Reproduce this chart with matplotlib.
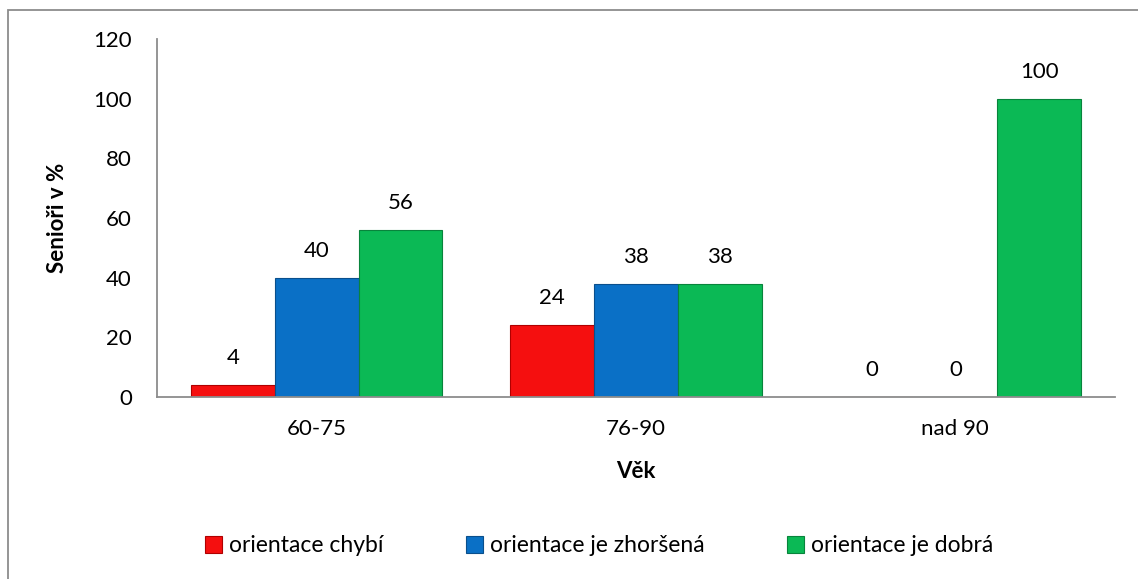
import matplotlib
matplotlib.use("Agg")
import matplotlib.pyplot as plt
import numpy as np
from matplotlib.patches import Rectangle

plt.rcParams['font.family'] = ['Lato', 'DejaVu Sans']

categories = ["60-75", "76-90", "nad 90"]
series_names = ["orientace chybí", "orientace je zhoršená", "orientace je dobrá"]
chybi = [4, 24, 0]
zhorsena = [40, 38, 0]
dobra = [56, 38, 100]
colors = ["#F50F0F", "#0A70C6", "#0BB955"]
edges = ["#B00000", "#0A4F8C", "#08843C"]

W, H = 1138, 579
fig = plt.figure(figsize=(W/100, H/100), dpi=100)
ax = fig.add_axes([157/W, 1-397/H, 958/W, 358/H])

x = np.arange(len(categories))
w = 0.2625
for i, (vals, name, c, e) in enumerate(zip([chybi, zhorsena, dobra], series_names, colors, edges)):
    pos = x + (i - 1) * w
    ax.bar(pos, vals, width=w, color=c, edgecolor=e, linewidth=0.8, label=name)
    for p, v in zip(pos, vals):
        ax.annotate(str(v), (p, v), xytext=(0, 19.5), textcoords="offset points",
                    ha="center", va="center", fontsize=16)

ax.set_xlim(-0.5, 2.5)
ax.set_ylim(0, 120)
ax.set_yticks(range(0, 121, 20))
ax.set_xticks(x)
ax.set_xticklabels(categories, fontsize=16)
ax.tick_params(axis='y', labelsize=16, length=0, pad=18)
ax.tick_params(axis='x', length=0, pad=16)
for s in ["top", "right"]:
    ax.spines[s].set_visible(False)
for s in ["left", "bottom"]:
    ax.spines[s].set_color("#8c8c8c")
    ax.spines[s].set_linewidth(1.3)

ax.set_ylabel("Senioři v %", fontsize=16, fontweight="bold")
ax.yaxis.set_label_coords((68-157)/958, 0.5)
ax.set_xlabel("Věk", fontsize=16, fontweight="bold")
ax.xaxis.set_label_coords(0.5, -(472-397)/358)
ax.xaxis.label.set_va("center")

fig.legend(loc="center", bbox_to_anchor=(599/W, 1-546/H), ncol=3, frameon=False,
           fontsize=16.5, handlelength=0.75, handleheight=0.75, handletextpad=0.3,
           columnspacing=3.6)

fig.patches.append(Rectangle((8/W, -0.05), 1.2, 1.05 - 10/H, transform=fig.transFigure,
                             fill=False, edgecolor="#8c8c8c", linewidth=1.3))

fig.savefig("out.png", dpi=100)
